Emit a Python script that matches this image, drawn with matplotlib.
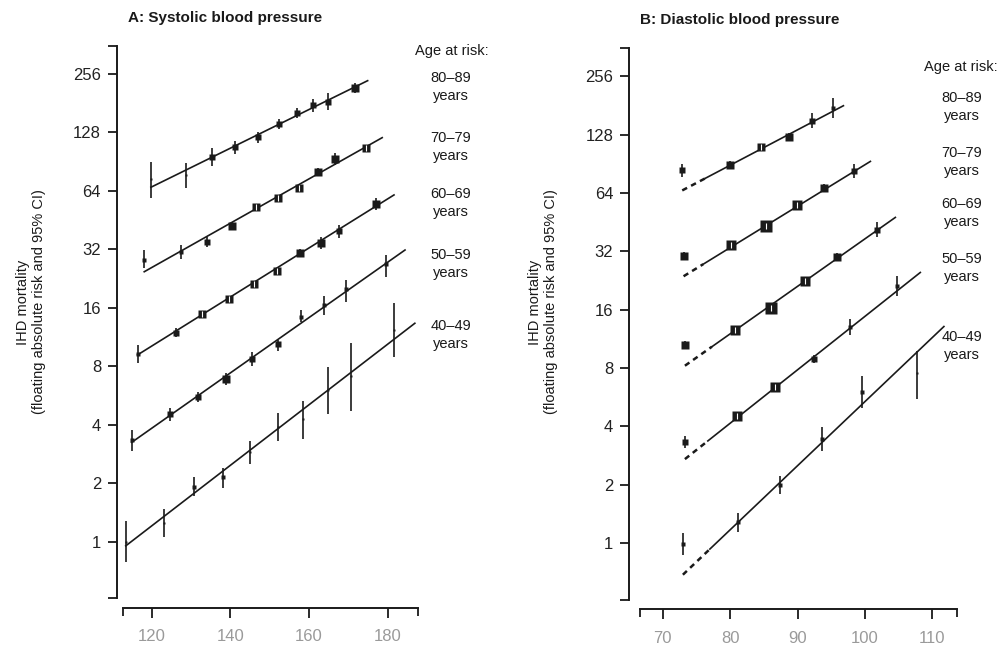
import matplotlib.pyplot as plt
import numpy as np
from matplotlib.ticker import FixedLocator, NullFormatter

plt.rcParams['font.family'] = ['Liberation Sans', 'DejaVu Sans']

ages = ["80–89", "70–79", "60–69", "50–59", "40–49"]

#systolic blood pressure (mmHg) groups, one row per age band
sbp_x = [
    [119.8, 128.7, 135.3, 141.2, 147.0, 152.4, 157.0, 161.1, 164.9, 171.7],
    [118.1, 127.4, 134.1, 140.4, 146.4, 152.0, 157.5, 162.2, 166.6, 174.5],
    [116.4, 126.1, 132.9, 139.7, 146.0, 151.9, 157.7, 163.0, 167.7, 177.0],
    [114.9, 124.7, 131.8, 138.8, 145.6, 152.0, 158.0, 163.7, 169.3, 179.5],
    [113.4, 123.2, 130.8, 138.1, 145.1, 152.0, 158.5, 164.7, 170.7, 181.6],
]
sbp_est = [
    [73.4, 77.2, 95.9, 107.2, 120.7, 140.9, 160.5, 177.1, 184.1, 215.9],
    [28.2, 31.1, 35.0, 42.3, 53.0, 58.6, 66.4, 80.3, 93.3, 105.9],
    [9.24, 11.9, 14.8, 17.7, 21.2, 24.7, 30.5, 34.3, 39.7, 54.5],
    [3.33, 4.52, 5.57, 6.85, 8.68, 10.37, 14.38, 16.5, 19.9, 26.9],
    [1.0, 1.25, 1.90, 2.16, 2.88, 3.90, 4.26, 6.03, 7.1, 12.3],
]
sbp_lo = [
    [58.6, 65.9, 85.9, 98.7, 112.4, 132.8, 151.3, 163.5, 166.8, 203.5],
    [25.6, 28.6, 33.0, 40.4, 51.1, 56.6, 64.1, 76.6, 86.9, 102.2],
    [8.28, 11.3, 14.3, 17.1, 20.5, 23.8, 29.1, 31.9, 36.4, 50.7],
    [2.93, 4.17, 5.25, 6.40, 8.02, 9.61, 13.55, 14.7, 17.2, 23.1],
    [0.787, 1.06, 1.72, 1.88, 2.50, 3.31, 3.37, 4.52, 4.72, 8.89],
]
sbp_hi = [
    [90.4, 88.7, 105.9, 115.9, 129.0, 149.5, 170.3, 189.4, 203.4, 229.0],
    [31.7, 33.8, 37.1, 44.3, 54.9, 60.7, 68.8, 84.2, 100.2, 109.7],
    [10.28, 12.5, 15.3, 18.3, 22.0, 25.6, 32.0, 36.8, 42.7, 58.5],
    [3.75, 4.89, 5.91, 7.37, 9.46, 10.9, 15.57, 18.4, 22.2, 29.9],
    [1.28, 1.47, 2.14, 2.40, 3.29, 4.61, 5.29, 7.95, 10.57, 16.86],
]
#relative precision of each estimate (box size)
sbp_prec = [
    [2, 2, 5, 5, 6, 6, 6, 6, 5, 7],
    [3, 4, 6, 7, 8, 8, 8, 8, 7, 8],
    [4, 6, 7, 8, 8, 8, 8, 7, 5, 7],
    [4, 5, 6, 7, 6, 5, 4, 3, 3, 3],
    [2, 2, 4, 3, 2, 2, 2, 2, 2, 2],
]
#fitted lines (start, end)
sbp_fit_x = [[119.8, 174.9], [118.1, 178.6], [116.4, 181.6], [114.9, 184.4], [113.4, 186.9]]
sbp_fit_y = [[66.7, 236.0], [24.5, 120.1], [9.14, 60.9], [3.24, 31.7], [0.95, 13.3]]

#diastolic blood pressure (mmHg) groups
dbp_x = [
    [72.9, 80.0, 84.6, 88.7, 92.1, 95.2],
    [73.1, 80.2, 85.3, 89.9, 93.9, 98.4],
    [73.3, 80.7, 86.1, 91.1, 95.9, 101.8],
    [73.3, 81.0, 86.6, 92.4, 97.8, 104.8],
    [73.0, 81.2, 87.4, 93.6, 99.6, 107.7],
]
dbp_est = [
    [84.4, 89.6, 110.1, 123.9, 151.2, 175.8],
    [30.4, 34.4, 43.1, 55.3, 67.9, 82.8],
    [10.47, 12.6, 16.3, 22.4, 29.8, 41.4],
    [3.32, 4.50, 6.38, 8.90, 13.1, 21.3],
    [0.99, 1.28, 2.0, 3.44, 5.99, 7.54],
]
dbp_lo = [
    [77.4, 85.4, 106.3, 118.1, 138.6, 156.0],
    [29.0, 33.2, 41.6, 53.4, 64.7, 76.2],
    [9.98, 12.2, 15.7, 21.6, 28.4, 37.9],
    [3.09, 4.34, 6.16, 8.49, 11.9, 18.9],
    [0.87, 1.14, 1.80, 2.99, 4.97, 5.56],
]
dbp_hi = [
    [90.7, 94.0, 114.1, 130.0, 165.6, 198.0],
    [31.9, 35.6, 44.7, 57.3, 71.2, 90.0],
    [11.0, 13.1, 16.9, 23.2, 31.3, 45.2],
    [3.57, 4.66, 6.61, 9.34, 14.4, 24.0],
    [1.13, 1.43, 2.22, 3.95, 7.24, 9.75],
]
dbp_prec = [
    [5, 8, 8, 7, 5, 4],
    [7, 10, 12, 10, 8, 5],
    [7, 10, 12, 10, 8, 5],
    [6, 9, 9, 6, 4, 4],
    [3, 3, 3, 3, 3, 2],
]
dbp_fit_x = [[72.9, 96.8], [73.1, 100.8], [73.3, 104.5], [73.3, 108.2], [73.0, 111.7]]
dbp_fit_y = [[66.0, 180.6], [23.8, 93.2], [8.22, 47.9], [2.71, 24.9], [0.686, 13.1]]
#lowest group is extrapolated: dashed up to here
dbp_dash_to = [76.3, 76.0, 77.3, 76.7, 77.0]

yticks = [1, 2, 4, 8, 16, 32, 64, 128, 256]

ink = '#1a1a1a'
W, H = 998, 648
fig = plt.figure(figsize=(W / 100, H / 100), dpi=100)


def rect(l, t, r, b):
    return [l / W, 1 - b / H, (r - l) / W, (b - t) / H]


def ftext(x, y, s, **kw):
    fig.text(x / W, 1 - y / H, s, **kw)


def draw_groups(ax, xs, est, lo, hi, prec, fit_x, fit_y, dash_to=None):
    for i in range(len(xs)):
        x = np.array(xs[i])
        # fitted line, dashed where it is extrapolated
        if dash_to is None:
            ax.plot(fit_x[i], fit_y[i], color=ink, lw=1.2, zorder=2)
        else:
            xm = dash_to[i]
            ym = np.exp(np.interp(xm, fit_x[i], np.log(fit_y[i])))
            ax.plot([fit_x[i][0], xm], [fit_y[i][0], ym], color=ink, lw=1.8,
                    ls=(0, (2.2, 1.8)), zorder=2)
            ax.plot([xm, fit_x[i][1]], [ym, fit_y[i][1]], color=ink, lw=1.2, zorder=2)
        ax.vlines(x, lo[i], hi[i], color=ink, lw=1.2, zorder=3)
        for j in range(len(x)):
            side = prec[i][j]
            ax.plot(x[j], est[i][j], 's', ms=side * 0.75, color=ink, mec='none', zorder=4)
            # CI narrower than the box shows as a white line inside it
            ci_px = (np.log2(hi[i][j]) - np.log2(lo[i][j])) * 58.4
            if ci_px < side - 1:
                ax.vlines(x[j], lo[i][j], hi[i][j], color='white', lw=0.8, zorder=5)


def style_axes(ax, xlim, ylim, xticks, left_off, bottom_off):
    ax.set_yscale('log', base=2)
    ax.set_xlim(*xlim)
    ax.set_ylim(*ylim)
    ax.set_yticks(yticks)
    ax.set_yticklabels([str(v) for v in yticks])
    ax.yaxis.set_minor_locator(FixedLocator(list(ylim)))
    ax.yaxis.set_minor_formatter(NullFormatter())
    ax.set_xticks(xticks)
    ax.set_xticklabels([str(v) for v in xticks])
    ax.xaxis.set_minor_locator(FixedLocator(list(xlim)))
    ax.xaxis.set_minor_formatter(NullFormatter())
    for s in ['top', 'right']:
        ax.spines[s].set_visible(False)
    ax.spines['left'].set_position(('outward', left_off))
    ax.spines['bottom'].set_position(('outward', bottom_off))
    for s in ['left', 'bottom']:
        ax.spines[s].set_linewidth(1.4)
        ax.spines[s].set_color(ink)
    ax.tick_params(axis='y', which='both', length=6.5, width=1.3, color=ink,
                   labelsize=12, labelcolor='#222222', pad=5)
    ax.tick_params(axis='x', which='major', length=7.5, width=1.3, color=ink,
                   labelsize=12, labelcolor='#9a9a9a', pad=8)
    ax.tick_params(axis='x', which='minor', length=5.5, width=1.3, color=ink)
    ax.patch.set_alpha(0)


#panel A: systolic
ax1 = fig.add_axes(rect(123, 46, 418, 598))
draw_groups(ax1, sbp_x, sbp_est, sbp_lo, sbp_hi, sbp_prec, sbp_fit_x, sbp_fit_y)
style_axes(ax1, (112.7, 187.7), (0.512, 356), [120, 140, 160, 180], 4.3, 7.0)

#panel B: diastolic
ax2 = fig.add_axes(rect(640, 48, 957, 600))
draw_groups(ax2, dbp_x, dbp_est, dbp_lo, dbp_hi, dbp_prec, dbp_fit_x, dbp_fit_y, dbp_dash_to)
style_axes(ax2, (66.64, 113.64), (0.508, 358.6), [70, 80, 90, 100, 110], 7.7, 6.5)

ftext(225, 18, "A: Systolic blood pressure", ha='center', va='center',
      fontsize=11, fontweight='bold', color=ink)
ftext(740, 20, "B: Diastolic blood pressure", ha='center', va='center',
      fontsize=11, fontweight='bold', color=ink)

ylab = "IHD mortality\n(floating absolute risk and 95% CI)"
ftext(31, 302, ylab, rotation=90, ha='center', va='center', fontsize=10.5,
      color=ink, linespacing=1.15)
ftext(543, 302, ylab, rotation=90, ha='center', va='center', fontsize=10.5,
      color=ink, linespacing=1.15)

#age band labels at the right of each panel
left_label_y = [87, 147, 203, 264, 335]
right_label_y = [107, 162, 213, 268, 346]
ftext(452, 51, "Age at risk:", ha='center', va='center', fontsize=10.5, color=ink)
ftext(961, 67, "Age at risk:", ha='center', va='center', fontsize=10.5, color=ink)
for a, yl, yr in zip(ages, left_label_y, right_label_y):
    ftext(451, yl, a + "\nyears", ha='center', va='center', fontsize=10.5,
          color=ink, linespacing=1.3)
    ftext(962, yr, a + "\nyears", ha='center', va='center', fontsize=10.5,
          color=ink, linespacing=1.3)

fig.savefig("out.png", dpi=100, facecolor='white')
